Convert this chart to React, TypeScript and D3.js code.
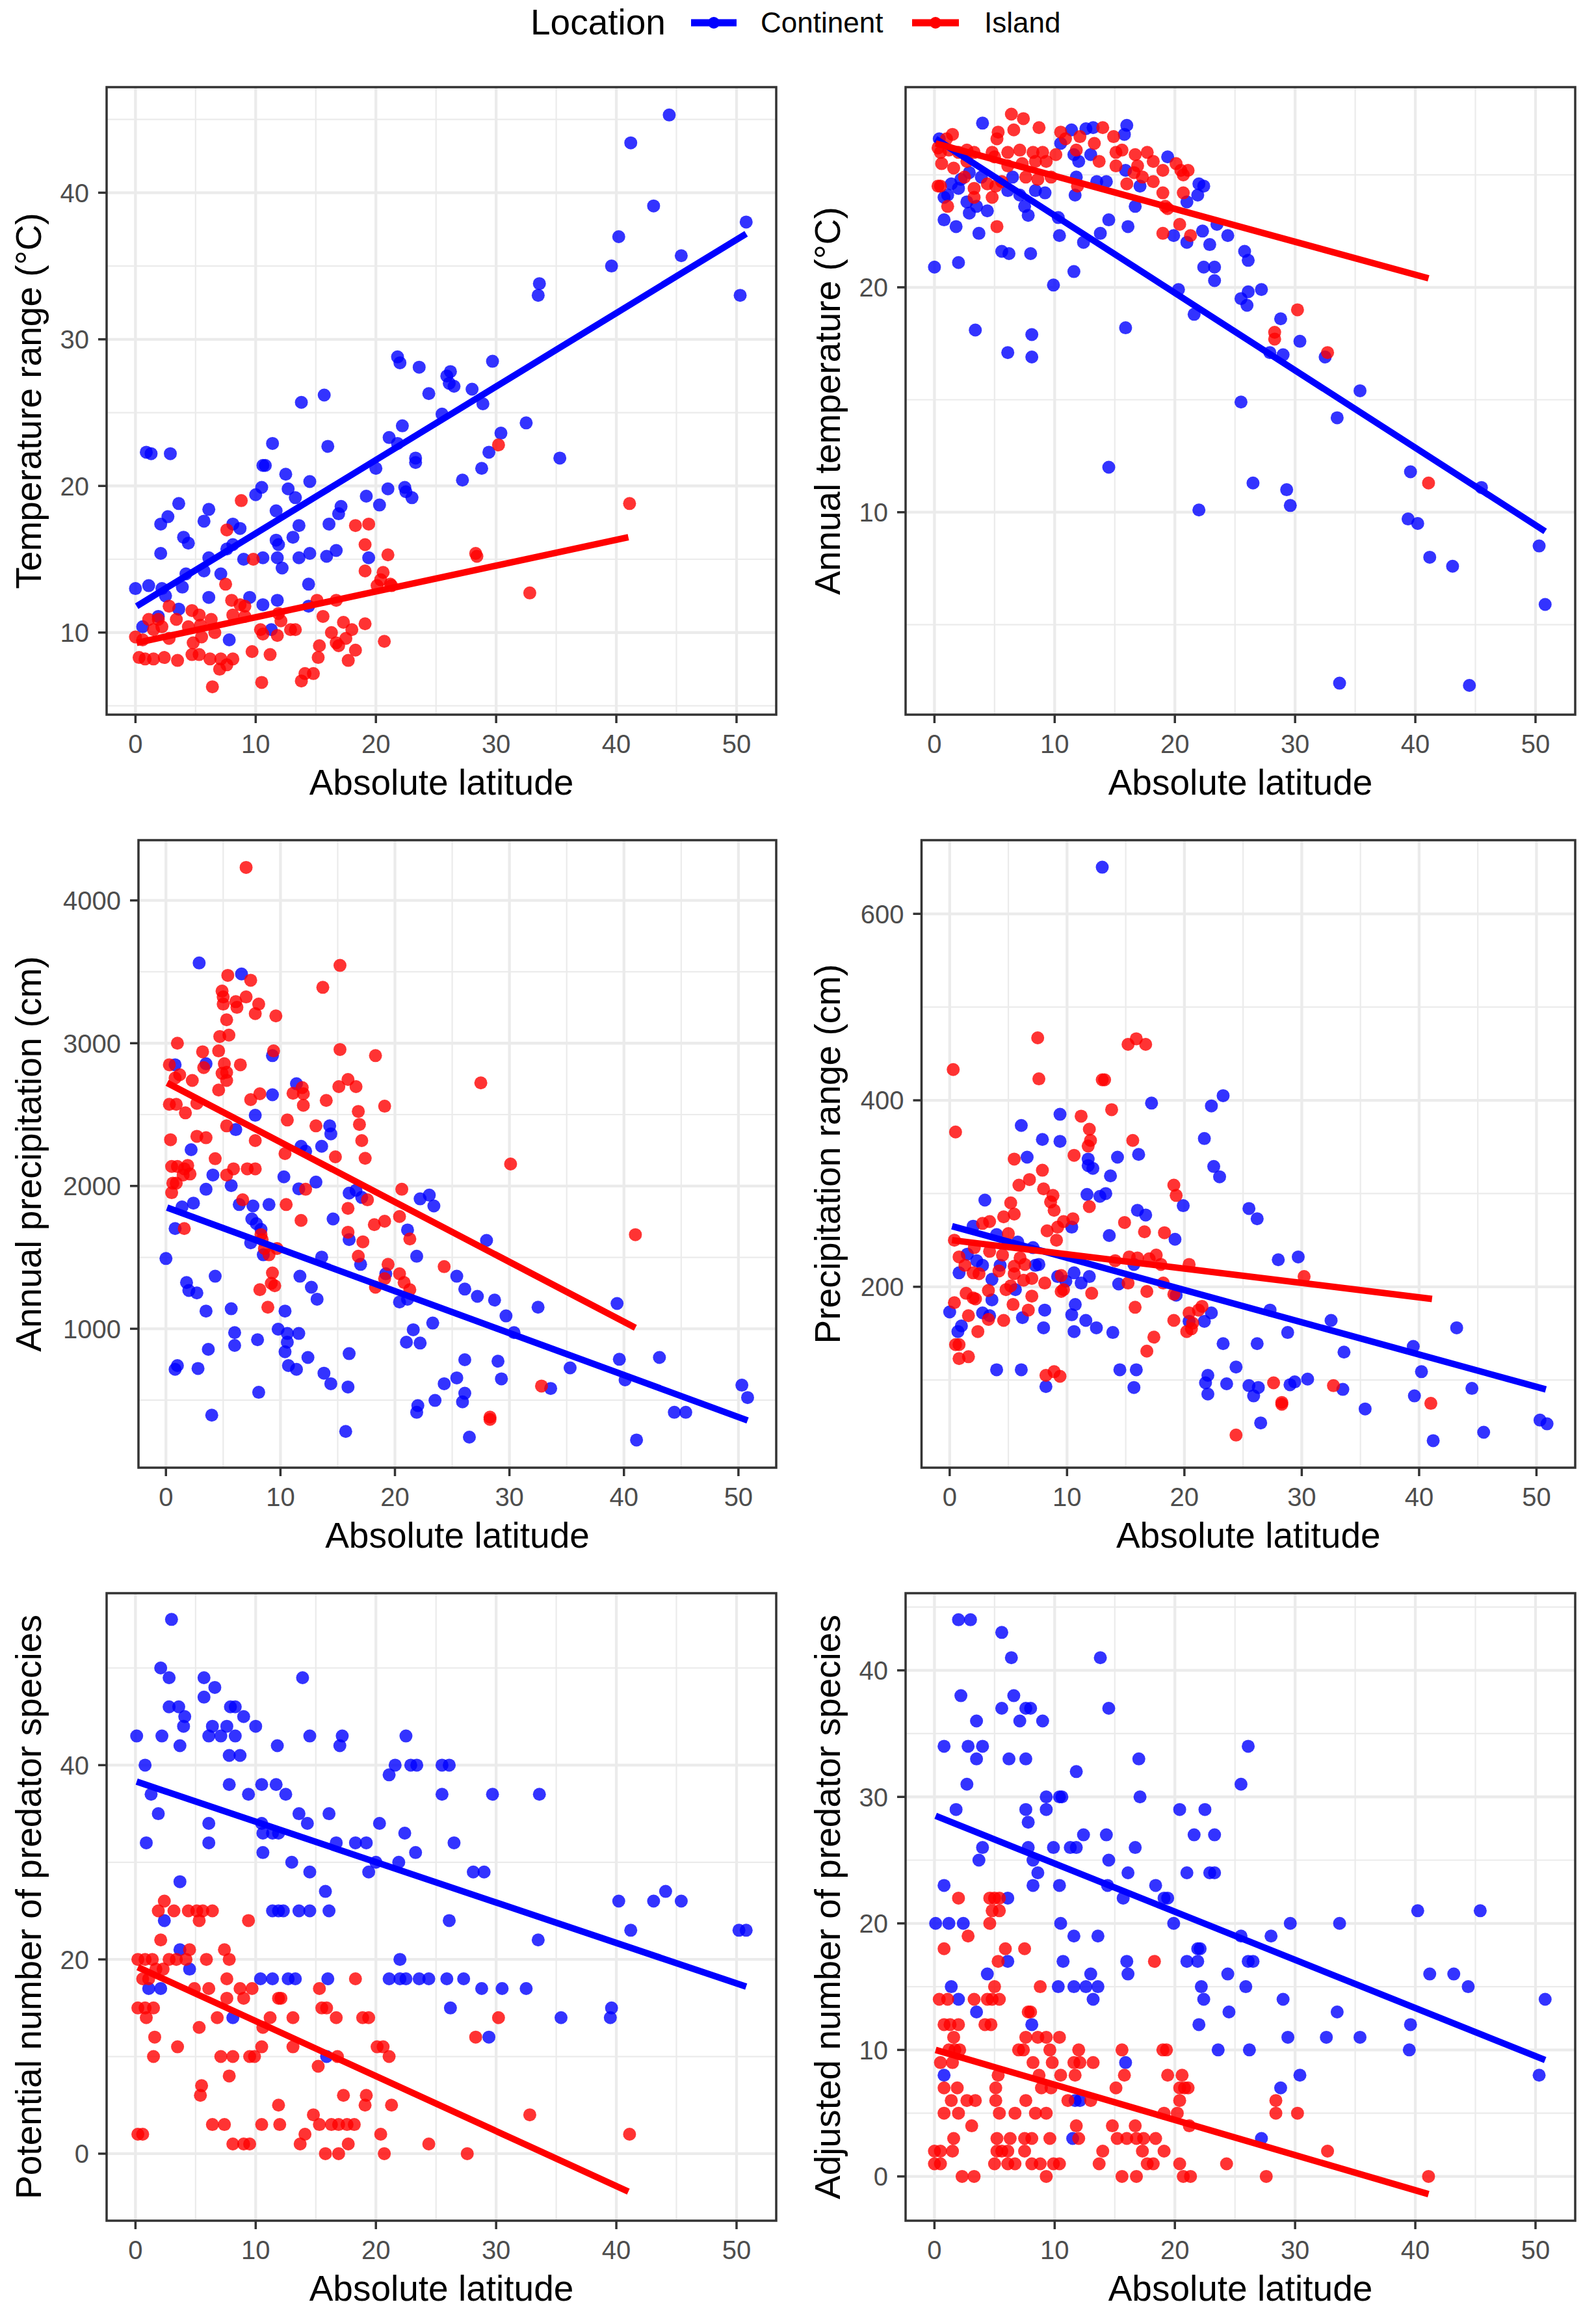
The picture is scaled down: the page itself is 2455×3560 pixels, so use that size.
import React from 'react';
import * as d3 from 'd3';

// ---- data (absolute latitude, value) ----
const latTicks = [0, 10, 20, 30, 40, 50];
const latDomain = [-2.4, 53.3];

const tempRangeTicks = [10, 20, 30, 40];
const tempRangeContinent = [
  [44.4, 45.3], [41.2, 43.4], [43.1, 39.1], [50.8, 38.0], [40.2, 37.0], [39.6, 35.0], [45.4, 35.7], [33.6, 33.8],
  [33.5, 33.0], [50.3, 33.0], [21.8, 28.8], [22.0, 28.4], [29.7, 28.5], [23.6, 28.1], [25.9, 27.5], [26.2, 27.8],
  [26.1, 27.0], [26.5, 26.8], [24.4, 26.3], [28.0, 26.6], [28.9, 25.6], [25.5, 24.9], [13.8, 25.7], [15.7, 26.2],
  [32.5, 24.3], [30.4, 23.6], [22.2, 24.1], [21.1, 23.3], [21.8, 22.9], [16.0, 22.7], [11.4, 22.9], [23.3, 21.9],
  [23.3, 21.6], [29.4, 22.3], [35.3, 21.9], [0.9, 22.3], [1.3, 22.2], [2.9, 22.2], [10.6, 21.4], [10.8, 21.4],
  [12.5, 20.8], [14.5, 20.3], [20.0, 21.2], [28.8, 21.2], [27.2, 20.4], [10.0, 19.4], [10.5, 19.9], [12.7, 19.8],
  [13.3, 19.2], [21.0, 19.8], [22.4, 19.9], [22.5, 19.6], [23.0, 19.2], [19.2, 19.3], [20.3, 18.7], [3.6, 18.8],
  [2.7, 17.9], [6.1, 18.4], [2.1, 17.4], [5.7, 17.6], [8.1, 17.4], [8.7, 17.1], [11.7, 18.3], [17.1, 18.6],
  [16.9, 18.1], [16.1, 17.4], [13.6, 17.3], [4.0, 16.5], [4.4, 16.1], [11.7, 16.3], [11.9, 16.0], [13.1, 16.5],
  [2.1, 15.4], [8.1, 16.0], [7.6, 15.7], [6.1, 15.1], [15.9, 15.2], [16.7, 15.6], [10.6, 15.1], [11.8, 15.1],
  [13.6, 15.1], [14.5, 15.4], [19.4, 15.1], [9.0, 15.0], [5.7, 14.2], [4.2, 14.0], [7.1, 14.0], [12.2, 14.4],
  [0.0, 13.0], [1.1, 13.2], [3.9, 13.1], [2.2, 13.0], [14.4, 13.3], [6.1, 12.4], [9.5, 12.4], [2.5, 12.5],
  [3.6, 11.6], [10.6, 11.9], [11.8, 12.2], [14.4, 11.8], [1.9, 11.1], [0.6, 10.4], [7.8, 9.5], [11.3, 10.2],
];
const tempRangeIsland = [
  [30.2, 22.8], [41.1, 18.8], [8.8, 19.0], [7.6, 17.0], [18.3, 17.3], [19.4, 17.4], [19.1, 16.0], [21.0, 15.3],
  [28.3, 15.4], [28.4, 15.2], [9.8, 15.0], [19.1, 14.2], [20.6, 14.1], [20.4, 13.6], [20.1, 13.2], [21.2, 13.3],
  [21.3, 13.2], [32.8, 12.7], [7.5, 13.3], [15.1, 12.2], [16.7, 12.2], [8.0, 12.2], [8.7, 11.9], [9.1, 11.8],
  [2.8, 11.8], [4.7, 11.5], [5.3, 11.2], [1.1, 10.9], [1.9, 10.9], [3.4, 10.9], [6.3, 10.9], [8.1, 11.2],
  [9.1, 11.1], [11.9, 11.3], [12.1, 10.8], [15.6, 11.1], [17.3, 10.7], [19.1, 10.6], [1.5, 10.2], [2.2, 10.4],
  [4.4, 10.4], [5.4, 10.5], [10.4, 10.2], [11.8, 9.8], [12.9, 10.2], [13.3, 10.2], [16.3, 10.0], [18.0, 10.2],
  [0.0, 9.7], [0.6, 9.5], [2.8, 9.6], [4.8, 9.3], [5.5, 9.7], [6.6, 10.0], [10.6, 9.9], [17.5, 9.6],
  [20.7, 9.4], [15.3, 9.1], [16.7, 9.3], [16.9, 9.1], [0.3, 8.3], [0.8, 8.2], [1.5, 8.2], [2.4, 8.3],
  [3.5, 8.1], [4.7, 8.5], [5.3, 8.5], [6.2, 8.2], [7.1, 8.2], [8.1, 8.2], [9.7, 8.7], [11.2, 8.5],
  [15.2, 8.3], [17.7, 8.1], [18.3, 8.8], [7.0, 7.5], [7.6, 7.8], [6.4, 6.3], [10.5, 6.6], [13.8, 6.7],
  [14.1, 7.2], [14.8, 7.2],
];
const tempRangeFitContinent = [[0.1, 11.8], [50.8, 37.2]];
const tempRangeFitIsland = [[0.1, 9.3], [41.0, 16.5]];

const annualTempTicks = [10, 20];
const annualTempContinent = [
  [4.0, 27.3], [11.4, 27.0], [12.6, 27.05], [13.2, 27.1], [16.0, 27.2], [15.8, 26.8], [0.4, 26.6], [10.5, 26.4],
  [19.4, 25.8], [11.6, 25.9], [13.0, 25.9], [12.0, 25.6], [15.9, 25.2], [2.9, 25.1], [3.9, 24.9], [6.5, 24.9],
  [11.8, 24.9], [13.5, 24.7], [14.3, 24.7], [22.0, 24.6], [22.4, 24.5], [1.4, 24.6], [2.2, 24.8], [2.0, 24.4],
  [1.1, 24.1], [0.8, 24.0], [6.1, 24.3], [7.1, 24.1], [8.4, 24.3], [9.2, 24.2], [11.7, 24.1], [17.1, 24.5],
  [21.9, 24.1], [2.7, 23.8], [3.5, 23.6], [4.4, 23.4], [2.9, 23.3], [7.5, 23.6], [7.8, 23.2], [16.7, 23.6],
  [21.0, 23.8], [0.8, 23.0], [1.8, 22.7], [3.7, 22.4], [10.3, 23.1], [14.5, 23.0], [16.1, 22.7], [10.4, 22.3],
  [13.8, 22.4], [12.4, 22.0], [19.9, 22.3], [21.0, 22.0], [22.3, 22.5], [23.5, 22.8], [24.4, 22.3], [22.9, 21.9],
  [25.8, 21.6], [26.1, 21.2], [5.6, 21.6], [6.2, 21.5], [8.0, 21.5], [2.0, 21.1], [0.0, 20.9], [11.6, 20.7],
  [22.4, 20.9], [23.3, 20.9], [23.3, 20.3], [9.9, 20.1], [20.3, 19.9], [27.2, 19.9], [25.5, 19.5], [26.1, 19.8],
  [26.0, 19.2], [21.6, 18.8], [28.8, 18.6], [3.4, 18.1], [8.1, 17.9], [15.9, 18.2], [6.1, 17.1], [8.1, 16.9],
  [30.4, 17.6], [27.9, 17.1], [29.0, 17.0], [32.5, 16.9], [35.4, 15.4], [25.5, 14.9], [33.5, 14.2], [14.5, 12.0],
  [39.6, 11.8], [26.5, 11.3], [45.5, 11.1], [29.3, 11.0], [29.6, 10.3], [22.0, 10.1], [39.4, 9.7], [40.2, 9.5],
  [50.3, 8.5], [41.2, 8.0], [43.1, 7.6], [50.8, 5.9], [33.7, 2.4], [44.5, 2.3],
];
const annualTempIsland = [
  [6.4, 27.7], [7.4, 27.5], [6.6, 27.0], [8.7, 27.1], [10.5, 26.9], [14.0, 27.1], [5.3, 26.9], [5.2, 26.6],
  [1.5, 26.8], [1.0, 26.6], [0.3, 26.2], [0.5, 26.0], [1.2, 26.1], [2.0, 26.0], [2.7, 26.1], [3.3, 26.0],
  [4.8, 26.0], [6.1, 26.0], [7.1, 26.1], [8.2, 26.0], [9.0, 26.0], [10.1, 25.9], [10.9, 26.6], [12.1, 26.7],
  [13.3, 26.4], [11.8, 26.1], [14.9, 26.7], [15.1, 26.0], [15.6, 26.1], [16.7, 25.9], [17.7, 26.0], [0.6, 25.5],
  [1.6, 25.3], [2.7, 25.6], [5.0, 25.8], [6.1, 25.4], [7.3, 25.5], [8.4, 25.6], [9.3, 25.6], [13.7, 25.6],
  [15.1, 25.4], [16.9, 25.4], [18.2, 25.6], [20.1, 25.5], [21.1, 25.2], [20.5, 25.2], [16.6, 25.1], [17.3, 24.9],
  [18.2, 24.7], [19.0, 25.2], [20.7, 25.0], [2.5, 24.9], [7.6, 24.9], [8.6, 24.8], [9.7, 24.9], [3.3, 24.4],
  [4.4, 24.6], [5.1, 24.5], [5.6, 24.7], [0.3, 24.5], [0.5, 24.5], [16.0, 24.6], [11.9, 24.5], [19.0, 24.2],
  [20.7, 24.2], [3.3, 24.0], [4.8, 24.0], [1.1, 23.6], [19.2, 23.6], [19.4, 23.5], [5.2, 22.7], [20.4, 22.8],
  [19.0, 22.4], [21.3, 22.3], [30.2, 19.0], [28.3, 18.0], [28.3, 17.7], [32.7, 17.1], [41.1, 11.3],
];
const annualTempFitContinent = [[0.1, 26.6], [50.8, 9.15]];
const annualTempFitIsland = [[0.1, 26.4], [41.1, 20.4]];

const annualPrecipTicks = [1000, 2000, 3000, 4000];
const annualPrecipContinent = [
  [2.9, 3562], [6.6, 3485], [3.5, 2856], [0.8, 2849], [9.3, 2913], [9.3, 2639], [11.4, 2716], [7.8, 2495],
  [6.1, 2395], [14.3, 2421], [14.4, 2365], [13.6, 2278], [2.2, 2254], [11.8, 2278], [12.2, 2244], [4.1, 2077],
  [10.3, 2064], [5.7, 2003], [3.5, 1977], [11.6, 1980], [13.1, 2027], [16.0, 1950], [16.6, 1970], [17.1, 1920],
  [22.2, 1910], [23.0, 1936], [23.4, 1860], [2.4, 1880], [1.4, 1853], [6.4, 1870], [7.6, 1860], [9.0, 1870],
  [14.6, 1769], [7.5, 1769], [7.9, 1736], [8.3, 1696], [0.8, 1702], [16.0, 1625], [28.0, 1619], [21.1, 1692],
  [7.4, 1602], [0.0, 1492], [13.6, 1502], [17.0, 1451], [21.9, 1508], [19.2, 1385], [8.5, 1518], [1.8, 1324],
  [4.3, 1368], [11.7, 1368], [25.4, 1368], [2.0, 1268], [2.7, 1251], [12.7, 1291], [26.1, 1278], [27.2, 1227],
  [28.7, 1201], [39.4, 1177], [13.2, 1207], [20.4, 1187], [21.1, 1207], [32.5, 1151], [3.5, 1124], [5.7, 1140],
  [10.4, 1124], [29.7, 1090], [30.4, 973], [9.8, 997], [10.6, 967], [11.6, 967], [21.6, 993], [23.3, 1040],
  [6.0, 973], [6.0, 883], [8.0, 923], [10.6, 906], [10.4, 839], [21.0, 906], [22.2, 900], [3.7, 856],
  [16.0, 826], [12.4, 799], [39.6, 786], [43.1, 799], [26.1, 783], [29.0, 773], [10.7, 742], [11.4, 716],
  [1.0, 742], [0.8, 716], [2.8, 722], [13.8, 689], [35.3, 726], [25.4, 656], [29.3, 649], [40.1, 642],
  [14.4, 615], [24.3, 615], [15.9, 592], [33.6, 582], [50.3, 605], [50.8, 518], [23.5, 498], [25.9, 488],
  [26.1, 548], [22.0, 462], [21.9, 415], [44.4, 415], [45.4, 415], [8.1, 555], [4.0, 395], [15.7, 281],
  [26.5, 241], [41.1, 221],
];
const annualPrecipIsland = [
  [7.0, 4231], [15.2, 3545], [13.7, 3391], [5.4, 3475], [7.4, 3441], [4.9, 3365], [5.0, 3324], [7.0, 3324],
  [6.1, 3291], [8.1, 3274], [5.0, 3274], [6.2, 3251], [9.6, 3191], [7.8, 3207], [5.3, 3164], [4.7, 3047],
  [5.5, 3057], [1.0, 3000], [3.2, 2940], [4.6, 2946], [9.4, 2946], [15.2, 2956], [18.3, 2913], [0.3, 2849],
  [3.3, 2829], [5.1, 2856], [6.5, 2849], [5.3, 2796], [4.9, 2789], [0.8, 2756], [1.2, 2779], [2.3, 2739],
  [5.3, 2739], [27.5, 2722], [15.1, 2696], [15.9, 2746], [16.6, 2696], [11.9, 2689], [12.0, 2646], [11.1, 2649],
  [8.2, 2646], [4.6, 2672], [14.0, 2599], [7.4, 2605], [0.3, 2572], [0.9, 2572], [2.7, 2579], [12.0, 2565],
  [19.1, 2559], [1.7, 2512], [16.8, 2522], [16.9, 2431], [13.1, 2421], [10.6, 2462], [5.3, 2421], [17.1, 2318],
  [2.7, 2348], [3.5, 2338], [0.4, 2324], [7.8, 2318], [10.4, 2227], [14.8, 2204], [17.4, 2194], [4.3, 2191],
  [30.1, 2154], [0.5, 2137], [1.0, 2137], [1.6, 2120], [1.9, 2144], [5.9, 2120], [7.1, 2120], [7.8, 2120],
  [1.5, 2077], [2.1, 2084], [5.3, 2077], [0.6, 2020], [0.9, 2020], [0.5, 1953], [12.2, 1977], [20.6, 1977],
  [17.6, 1903], [6.7, 1903], [15.9, 1843], [10.5, 1870], [20.4, 1786], [11.8, 1759], [19.1, 1753], [18.2, 1729],
  [1.6, 1702], [15.9, 1676], [8.3, 1659], [8.4, 1625], [17.2, 1609], [21.3, 1629], [8.6, 1562], [9.7, 1562],
  [9.0, 1518], [16.8, 1508], [19.4, 1451], [24.3, 1435], [9.3, 1391], [20.4, 1385], [19.1, 1351], [9.2, 1318],
  [9.5, 1301], [20.8, 1324], [21.3, 1274], [8.2, 1274], [18.3, 1291], [8.9, 1151], [41.0, 1659], [32.8, 599],
  [28.3, 381], [28.3, 365],
];
const annualPrecipFitContinent = [[0.1, 1849], [50.8, 358]];
const annualPrecipFitIsland = [[0.1, 2722], [41.0, 1007]];

const precipRangeTicks = [200, 400, 600];
const precipRangeContinent = [
  [13.0, 650], [23.3, 405], [22.3, 394], [17.2, 397], [9.4, 385], [6.1, 373], [21.7, 359], [7.9, 358],
  [9.4, 356], [6.6, 339], [16.1, 342], [14.3, 339], [11.8, 337], [11.8, 330], [12.2, 327], [22.5, 329],
  [23.0, 318], [13.7, 319], [11.7, 299], [12.8, 297], [13.3, 300], [19.9, 287], [3.0, 293], [16.0, 282],
  [16.7, 277], [25.5, 284], [26.2, 273], [2.0, 265], [4.0, 256], [5.8, 248], [7.1, 242], [10.4, 264],
  [13.6, 255], [19.2, 251], [1.5, 235], [2.3, 228], [2.8, 223], [4.3, 223], [7.6, 224], [9.2, 211],
  [10.6, 215], [11.9, 211], [11.2, 204], [28.0, 229], [29.7, 232], [3.6, 208], [5.6, 197], [7.3, 223],
  [0.8, 215], [14.4, 203], [15.7, 224], [19.3, 191], [9.9, 206], [0.0, 173], [2.8, 172], [3.4, 169],
  [3.6, 186], [6.2, 167], [8.1, 175], [10.4, 170], [10.7, 181], [11.6, 164], [27.3, 175], [22.3, 172],
  [21.7, 163], [20.4, 163], [32.5, 164], [1.0, 158], [0.7, 152], [8.0, 156], [10.6, 152], [12.5, 156],
  [13.9, 151], [43.2, 156], [28.8, 151], [23.3, 139], [26.2, 139], [39.5, 136], [33.6, 130], [4.0, 111],
  [6.1, 111], [14.5, 111], [15.9, 111], [40.2, 109], [24.4, 114], [22.0, 105], [21.8, 97], [23.6, 96],
  [25.5, 94], [26.3, 92], [29.0, 95], [29.4, 98], [30.5, 101], [8.2, 93], [15.7, 92], [25.9, 83],
  [22.0, 85], [33.5, 90], [44.5, 91], [39.6, 83], [35.4, 69], [26.5, 54], [50.3, 57], [50.9, 53],
  [45.5, 44], [41.2, 35],
];
const precipRangeIsland = [
  [0.3, 433], [7.5, 467], [7.6, 423], [15.2, 460], [15.9, 466], [16.7, 460], [13.0, 422], [13.2, 422],
  [0.5, 366], [13.8, 390], [11.2, 383], [11.9, 369], [12.0, 357], [11.8, 351], [15.6, 357], [10.6, 341],
  [5.5, 337], [6.8, 315], [5.9, 309], [7.9, 325], [8.0, 305], [19.1, 309], [19.3, 298], [8.8, 298],
  [8.6, 291], [5.2, 290], [8.9, 282], [5.5, 278], [11.9, 286], [4.6, 275], [3.4, 270], [2.8, 268],
  [9.7, 270], [10.5, 273], [9.2, 264], [14.9, 269], [8.3, 260], [16.6, 259], [18.3, 258], [5.0, 257],
  [0.4, 250], [9.1, 250], [2.1, 242], [3.4, 238], [4.5, 234], [6.0, 231], [0.8, 232], [14.1, 228],
  [15.3, 232], [16.0, 231], [17.0, 230], [17.6, 234], [18.0, 224], [20.4, 224], [1.3, 223], [5.5, 222],
  [6.4, 224], [2.5, 214], [2.0, 215], [4.2, 217], [5.5, 214], [7.0, 209], [6.3, 207], [30.2, 211],
  [9.5, 212], [8.1, 204], [5.2, 201], [15.2, 204], [18.2, 204], [4.8, 197], [9.7, 197], [9.5, 195],
  [12.1, 193], [16.8, 195], [19.1, 192], [1.4, 193], [2.0, 188], [2.2, 187], [3.3, 196], [0.4, 183],
  [5.4, 181], [6.7, 175], [1.6, 169], [7.0, 190], [3.3, 165], [4.6, 164], [15.8, 178], [19.1, 164],
  [20.4, 172], [21.2, 175], [21.5, 179], [20.7, 161], [20.2, 152], [20.6, 155], [2.4, 152], [17.4, 146],
  [0.5, 138], [0.8, 138], [1.6, 125], [0.8, 123], [16.8, 131], [8.2, 105], [8.9, 109], [9.4, 104],
  [27.6, 97], [32.7, 94], [28.3, 76], [28.3, 74], [41.0, 75], [24.4, 41],
];
const precipRangeFitContinent = [[0.2, 265], [50.8, 90]];
const precipRangeFitIsland = [[0.2, 250], [41.1, 187]];

const potentialPredTicks = [0, 20, 40];
const potentialPredContinent = [
  [3.0, 55], [2.1, 50], [2.8, 49], [5.7, 49], [13.9, 49], [6.6, 48], [5.7, 47], [2.8, 46],
  [3.6, 46], [7.9, 46], [8.3, 46], [4.1, 45], [9.0, 45], [4.0, 44], [6.4, 44], [7.6, 44],
  [10.0, 44], [0.1, 43], [2.2, 43], [6.1, 43], [7.1, 43], [8.3, 43], [14.5, 43], [17.2, 43],
  [22.5, 43], [3.7, 42], [11.8, 42], [17.0, 42], [7.8, 41], [8.7, 41], [0.8, 40], [21.6, 40],
  [22.9, 40], [23.4, 40], [25.5, 40], [26.1, 40], [21.1, 39], [7.8, 38], [10.5, 38], [11.7, 38],
  [1.3, 37], [9.4, 37], [12.5, 37], [25.5, 37], [29.7, 37], [33.6, 37], [1.9, 35], [13.6, 35],
  [16.1, 35], [6.1, 34], [10.5, 34], [14.3, 34], [20.3, 34], [10.6, 33], [11.4, 33], [11.9, 33],
  [22.4, 33], [0.9, 32], [6.1, 32], [16.7, 32], [18.3, 32], [19.2, 32], [26.5, 32], [10.6, 31],
  [23.3, 31], [13.0, 30], [20.0, 30], [21.9, 30], [14.5, 29], [19.4, 29], [28.1, 29], [29.0, 29],
  [3.7, 28], [15.8, 27], [44.1, 27], [40.2, 26], [43.1, 26], [45.4, 26], [11.4, 25], [11.9, 25],
  [12.3, 25], [13.6, 25], [14.5, 25], [16.1, 25], [2.4, 24], [26.1, 24], [41.2, 23], [50.2, 23],
  [50.8, 23], [33.5, 22], [3.7, 21], [22.0, 20], [4.5, 19], [1.1, 17], [2.1, 17], [10.4, 18],
  [11.4, 18], [12.7, 18], [13.3, 18], [16.0, 18], [21.1, 18], [22.0, 18], [22.5, 18], [23.6, 18],
  [24.4, 18], [25.9, 18], [27.3, 18], [28.8, 17], [30.5, 17], [32.5, 17], [26.2, 15], [39.6, 15],
  [35.4, 14], [39.5, 14], [8.1, 14], [29.4, 12], [15.9, 10],
];
const potentialPredIsland = [
  [2.4, 26], [1.9, 25], [3.2, 25], [4.4, 25], [5.1, 25], [5.6, 25], [6.4, 25], [5.3, 24],
  [9.4, 24], [2.1, 22], [4.5, 21], [7.4, 21], [0.2, 20], [0.8, 20], [1.4, 20], [2.8, 20],
  [3.4, 20], [5.9, 20], [7.8, 20], [4.2, 20], [2.3, 19], [1.7, 19], [0.6, 18], [1.1, 18],
  [7.6, 18], [18.3, 18], [4.9, 17], [6.1, 17], [8.7, 17], [9.7, 17], [15.3, 17], [7.6, 16],
  [9.0, 16], [11.9, 16], [12.1, 16], [0.2, 15], [0.8, 15], [1.5, 15], [15.5, 15], [15.9, 15],
  [0.9, 14], [6.8, 14], [11.2, 14], [13.1, 14], [16.7, 14], [18.9, 14], [19.4, 14], [30.2, 14],
  [5.3, 13], [10.6, 13], [1.6, 12], [28.3, 12], [3.5, 11], [10.5, 11], [13.1, 11], [20.1, 11],
  [20.6, 11], [1.5, 10], [7.1, 10], [8.1, 10], [9.5, 10], [9.9, 10], [16.8, 10], [21.1, 10],
  [15.2, 9], [7.8, 8], [5.5, 7], [5.4, 6], [17.3, 6], [19.2, 6], [11.9, 5], [19.1, 5],
  [21.3, 5], [14.8, 4], [32.8, 4], [6.4, 3], [7.4, 3], [10.5, 3], [12.0, 3], [15.3, 3],
  [16.3, 3], [16.9, 3], [17.6, 3], [18.2, 3], [0.2, 2], [0.6, 2], [14.1, 2], [20.4, 2],
  [41.1, 2], [8.1, 1], [9.0, 1], [9.5, 1], [13.7, 1], [17.7, 1], [24.4, 1], [15.8, 0],
  [16.9, 0], [20.7, 0], [27.6, 0],
];
const potentialPredFitContinent = [[0.1, 38.3], [50.8, 17.2]];
const potentialPredFitIsland = [[0.2, 19.2], [41.0, -3.9]];

const adjustedPredTicks = [0, 10, 20, 30, 40];
const adjustedPredContinent = [
  [2.0, 44], [3.0, 44], [5.6, 43], [13.8, 41], [6.4, 41], [2.2, 38], [6.6, 38], [5.6, 37],
  [7.6, 37], [8.0, 37], [14.5, 37], [3.5, 36], [7.1, 36], [9.0, 36], [0.8, 34], [2.8, 34],
  [4.0, 34], [26.1, 34], [3.5, 33], [6.2, 33], [7.6, 33], [17.0, 33], [11.8, 32], [2.7, 31],
  [25.5, 31], [9.3, 30], [10.4, 30], [10.6, 30], [17.1, 30], [1.8, 29], [7.6, 29], [9.3, 29],
  [20.4, 29], [22.5, 29], [7.8, 28], [12.4, 27], [14.3, 27], [21.6, 27], [23.3, 27], [4.0, 26],
  [7.8, 26], [9.9, 26], [11.3, 26], [11.8, 26], [16.7, 26], [3.7, 25], [8.2, 25], [14.5, 25],
  [8.6, 24], [16.1, 24], [21.0, 24], [22.9, 24], [23.3, 24], [0.8, 23], [8.2, 23], [10.4, 23],
  [14.4, 23], [18.4, 23], [15.7, 22], [6.1, 22], [19.1, 22], [19.4, 22], [40.2, 21], [45.4, 21],
  [0.1, 20], [1.2, 20], [2.4, 20], [10.5, 20], [19.9, 20], [29.6, 20], [33.7, 20], [11.6, 19],
  [13.6, 19], [25.5, 19], [28.0, 19], [21.9, 18], [22.1, 18], [6.1, 17], [10.7, 17], [16.0, 17],
  [21.0, 17], [21.9, 17], [26.1, 17], [26.5, 17], [4.4, 16], [13.0, 16], [16.1, 16], [24.4, 16],
  [41.2, 16], [43.2, 16], [1.4, 15], [10.3, 15], [11.6, 15], [12.6, 15], [13.6, 15], [22.2, 15],
  [25.9, 15], [44.4, 15], [2.0, 14], [13.2, 14], [22.4, 14], [29.0, 14], [50.8, 14], [3.5, 13],
  [24.5, 13], [33.5, 13], [8.1, 12], [22.0, 12], [39.6, 12], [29.4, 11], [32.6, 11], [35.4, 11],
  [23.6, 10], [26.2, 10], [39.5, 10], [15.9, 9], [0.8, 8], [30.4, 8], [50.3, 8], [28.8, 7],
  [11.7, 6], [12.1, 6], [11.5, 3], [27.2, 3],
];
const adjustedPredIsland = [
  [2.0, 22], [4.6, 22], [5.0, 22], [5.4, 22], [4.8, 21], [5.4, 21], [4.6, 20], [2.8, 19],
  [0.8, 18], [5.9, 18], [7.5, 18], [5.3, 17], [18.3, 17], [5.0, 15], [8.8, 15], [0.4, 14],
  [1.1, 14], [3.3, 14], [4.4, 14], [4.8, 14], [5.4, 14], [7.8, 13], [8.0, 13], [0.8, 12],
  [1.3, 12], [2.0, 12], [4.2, 12], [4.7, 12], [1.6, 11], [7.6, 11], [8.6, 11], [9.3, 11],
  [10.4, 11], [1.2, 10], [1.7, 10], [2.1, 10], [7.0, 10], [7.4, 10], [9.6, 10], [12.0, 10],
  [15.6, 10], [19.0, 10], [19.3, 10], [0.5, 9], [1.5, 9], [8.2, 9], [9.8, 9], [11.6, 9],
  [12.1, 9], [13.2, 9], [5.3, 8], [8.7, 8], [10.5, 8], [11.7, 8], [15.8, 8], [19.4, 8],
  [20.6, 8], [0.8, 7], [1.9, 7], [5.1, 7], [8.9, 7], [9.7, 7], [15.1, 7], [20.4, 7],
  [20.8, 7], [21.1, 7], [1.4, 6], [2.7, 6], [3.4, 6], [5.1, 6], [7.6, 6], [11.1, 6],
  [13.0, 6], [20.4, 6], [28.4, 6], [0.8, 5], [2.0, 5], [5.4, 5], [6.7, 5], [8.4, 5],
  [9.3, 5], [19.1, 5], [20.2, 5], [28.4, 5], [30.2, 5], [3.1, 4], [11.8, 4], [14.8, 4],
  [16.7, 4], [21.2, 4], [1.6, 3], [5.2, 3], [6.3, 3], [7.5, 3], [8.1, 3], [9.6, 3],
  [12.0, 3], [15.2, 3], [16.0, 3], [16.8, 3], [17.4, 3], [18.4, 3], [0.0, 2], [0.5, 2],
  [1.5, 2], [5.2, 2], [5.6, 2], [6.1, 2], [7.5, 2], [14.0, 2], [17.3, 2], [19.1, 2],
  [32.7, 2], [0.0, 1], [0.5, 1], [5.0, 1], [6.1, 1], [6.7, 1], [8.1, 1], [8.8, 1],
  [9.9, 1], [10.4, 1], [13.7, 1], [17.7, 1], [18.2, 1], [20.4, 1], [24.3, 1], [2.3, 0],
  [3.3, 0], [9.3, 0], [15.6, 0], [16.8, 0], [20.7, 0], [21.3, 0], [27.6, 0], [41.1, 0],
];
const adjustedPredFitContinent = [[0.1, 28.5], [50.8, 9.2]];
const adjustedPredFitIsland = [[0.1, 10.0], [41.1, -1.4]];

const locations = ['Continent', 'Island'];
const locationColors = ['#0000FF', '#FF0000'];

// ---- layout ----
const W = 2455;
const H = 3560;
const colX = [0, 1229];
const rowY = [134, 1292, 2450];
const panelH = 965;
const FONT = '"Liberation Sans", Arial, Helvetica, sans-serif';

const panels = [
  { row: 0, col: 0, title: 'Temperature range (°C)', yDomain: [4.4, 47.2], ticks: tempRangeTicks, cont: tempRangeContinent, isl: tempRangeIsland, fits: [tempRangeFitContinent, tempRangeFitIsland] },
  { row: 0, col: 1, title: 'Annual temperature (°C)', yDomain: [1.0, 28.9], ticks: annualTempTicks, cont: annualTempContinent, isl: annualTempIsland, fits: [annualTempFitContinent, annualTempFitIsland] },
  { row: 1, col: 0, title: 'Annual precipitation (cm)', yDomain: [27, 4422], ticks: annualPrecipTicks, cont: annualPrecipContinent, isl: annualPrecipIsland, fits: [annualPrecipFitContinent, annualPrecipFitIsland] },
  { row: 1, col: 1, title: 'Precipitation range (cm)', yDomain: [6, 679], ticks: precipRangeTicks, cont: precipRangeContinent, isl: precipRangeIsland, fits: [precipRangeFitContinent, precipRangeFitIsland] },
  { row: 2, col: 0, title: 'Potential number of predator species', yDomain: [-6.9, 57.7], ticks: potentialPredTicks, cont: potentialPredContinent, isl: potentialPredIsland, fits: [potentialPredFitContinent, potentialPredFitIsland] },
  { row: 2, col: 1, title: 'Adjusted number of predator species', yDomain: [-3.5, 46.1], ticks: adjustedPredTicks, cont: adjustedPredContinent, isl: adjustedPredIsland, fits: [adjustedPredFitContinent, adjustedPredFitIsland] },
];

function minorBreaks(ticks: number[], domain: number[]) {
  const step = ticks.length > 1 ? ticks[1] - ticks[0] : 10;
  const out: number[] = [];
  for (let v = ticks[0] - step / 2; v <= ticks[ticks.length - 1] + step / 2 + 1e-9; v += step) {
    if (v > domain[0] && v < domain[1]) out.push(v);
  }
  return out;
}

function Panel({ p }: { p: any }) {
  const digits = d3.max(p.ticks as number[], (t) => String(t).length) as number;
  const ox = colX[p.col];
  const left = ox + 164 + 24.5 * (digits - 2);
  const right = ox + 1194;
  const top = rowY[p.row];
  const bottom = top + panelH;
  const x = d3.scaleLinear().domain(latDomain).range([left, right]);
  const y = d3.scaleLinear().domain(p.yDomain).range([bottom, top]);
  const line = d3.line<number[]>().x((d) => x(d[0])).y((d) => y(d[1]));
  const xMinor = minorBreaks(latTicks, latDomain);
  const yMinor = minorBreaks(p.ticks, p.yDomain);
  const grid = '#EBEBEB';
  return (
    <g>
      <rect x={left} y={top} width={right - left} height={panelH} fill="#fff" />
      {xMinor.map((v) => (
        <line key={'xm' + v} x1={x(v)} x2={x(v)} y1={top} y2={bottom} stroke={grid} strokeWidth={2.2} />
      ))}
      {yMinor.map((v) => (
        <line key={'ym' + v} x1={left} x2={right} y1={y(v)} y2={y(v)} stroke={grid} strokeWidth={2.2} />
      ))}
      {latTicks.map((v) => (
        <line key={'xg' + v} x1={x(v)} x2={x(v)} y1={top} y2={bottom} stroke={grid} strokeWidth={4.3} />
      ))}
      {p.ticks.map((v: number) => (
        <line key={'yg' + v} x1={left} x2={right} y1={y(v)} y2={y(v)} stroke={grid} strokeWidth={4.3} />
      ))}
      {[p.cont, p.isl].map((pts: number[][], gi: number) => (
        <g key={'pts' + gi} fill={locationColors[gi]} fillOpacity={0.8}>
          {pts.map((d, i) => (
            <circle key={i} cx={x(d[0])} cy={y(d[1])} r={10} />
          ))}
        </g>
      ))}
      {p.fits.map((f: number[][], gi: number) => (
        <path key={'fit' + gi} d={line(f) as string} fill="none" stroke={locationColors[gi]} strokeWidth={10} />
      ))}
      <rect x={left} y={top} width={right - left} height={panelH} fill="none" stroke="#333333" strokeWidth={3.5} />
      {/* x axis */}
      {latTicks.map((v) => (
        <g key={'xt' + v}>
          <line x1={x(v)} x2={x(v)} y1={bottom} y2={bottom + 13} stroke="#333333" strokeWidth={3.5} />
          <text x={x(v)} y={bottom + 59} textAnchor="middle" fontSize={40} fill="#4D4D4D">{v}</text>
        </g>
      ))}
      {/* y axis */}
      {p.ticks.map((v: number) => (
        <g key={'yt' + v}>
          <line x1={left - 13} x2={left} y1={y(v)} y2={y(v)} stroke="#333333" strokeWidth={3.5} />
          <text x={left - 27} y={y(v)} dy="0.36em" textAnchor="end" fontSize={40} fill="#4D4D4D">{v}</text>
        </g>
      ))}
      <text x={(left + right) / 2} y={bottom + 123} textAnchor="middle" fontSize={55} fill="#000">
        Absolute latitude
      </text>
      <text
        transform={`translate(${ox + 63},${(top + bottom) / 2}) rotate(-90)`}
        textAnchor="middle"
        fontSize={55}
        fill="#000"
      >
        {p.title}
      </text>
    </g>
  );
}

function Legend() {
  const keys = [
    { x0: 1063, x1: 1133, tx: 1170 },
    { x0: 1403, x1: 1475, tx: 1514 },
  ];
  return (
    <g>
      <text x={816} y={53} fontSize={55} fill="#000">Location</text>
      {keys.map((k, i) => (
        <g key={i}>
          <line x1={k.x0} x2={k.x1} y1={35} y2={35} stroke={locationColors[i]} strokeWidth={11} />
          <circle cx={(k.x0 + k.x1) / 2} cy={35} r={9} fill={locationColors[i]} />
          <text x={k.tx} y={50} fontSize={44} fill="#000">{locations[i]}</text>
        </g>
      ))}
    </g>
  );
}

export default function App() {
  return (
    <svg
      width={W}
      height={H}
      viewBox={`0 0 ${W} ${H}`}
      style={{ position: 'absolute', left: 0, top: 0, display: 'block', background: '#fff' }}
      fontFamily={FONT}
    >
      <rect width={W} height={H} fill="#fff" />
      <Legend />
      {panels.map((p, i) => (
        <Panel key={i} p={p} />
      ))}
    </svg>
  );
}
